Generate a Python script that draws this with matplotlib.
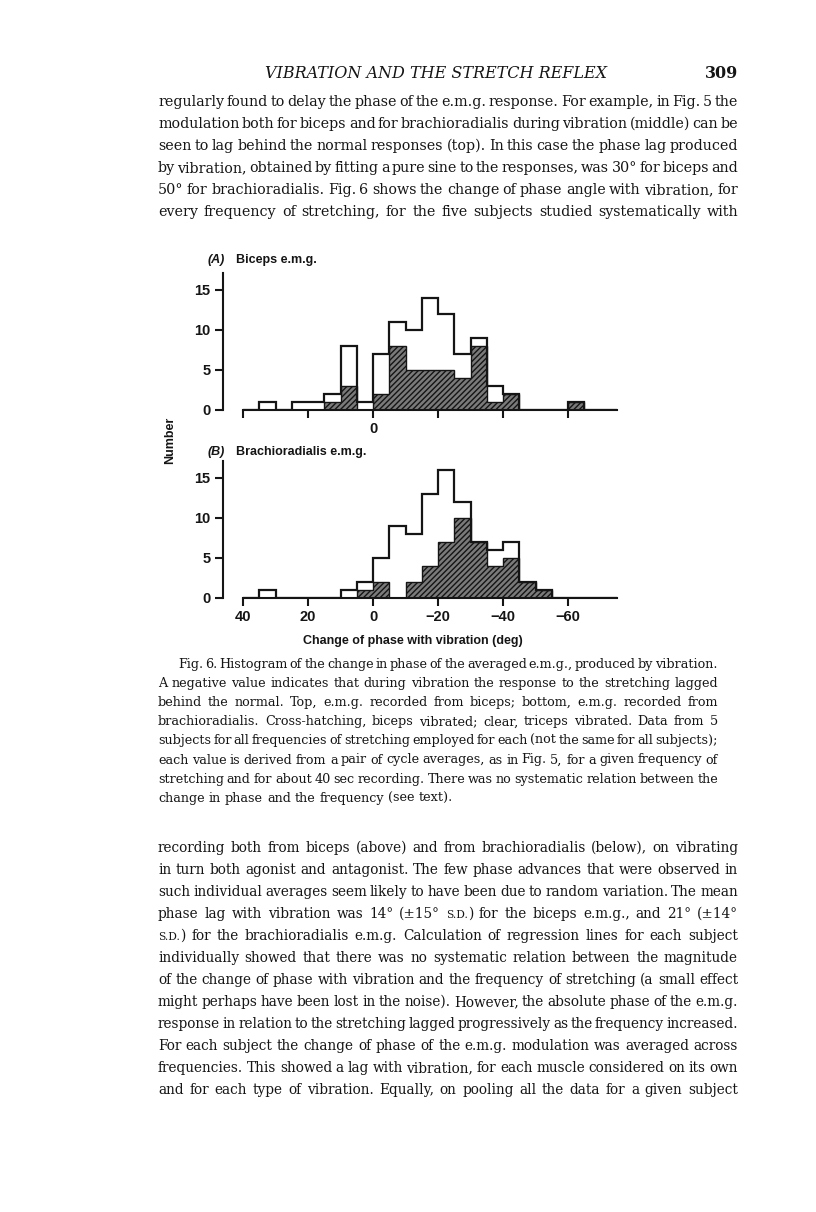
import matplotlib
matplotlib.use('Agg')
import matplotlib.pyplot as plt
import numpy as np

plt.rcParams['hatch.linewidth'] = 1.0

W, H = 816, 1212

# bins of 5 deg (left = +40 deg, right = -75 deg)
edges = np.arange(40, -80, -5)
# Biceps e.m.g.
biceps_total = [0, 1, 0, 1, 1, 2, 8, 1, 7, 11, 10, 14, 12, 7, 9, 3, 2, 0, 0, 0, 1, 0, 0]
biceps_hatched = [0, 0, 0, 0, 0, 1, 3, 0, 2, 8, 5, 5, 5, 4, 8, 1, 2, 0, 0, 0, 1, 0, 0]
# Brachioradialis e.m.g.
brachio_total = [0, 1, 0, 0, 0, 0, 1, 2, 5, 9, 8, 13, 16, 12, 7, 6, 7, 2, 1, 0, 0, 0, 0]
brachio_hatched = [0, 0, 0, 0, 0, 0, 0, 1, 2, 0, 2, 4, 7, 10, 7, 4, 5, 2, 1, 0, 0, 0, 0]

xticks = [40, 20, 0, -20, -40, -60]
xtick_labels = ['40', '20', '0', '\u221220', '\u221240', '\u221260']
yticks = [0, 5, 10, 15]

header = 'VIBRATION AND THE STRETCH REFLEX'
page_no = '309'

top_lines = [
    'regularly found to delay the phase of the e.m.g. response. For example, in Fig. 5 the',
    'modulation both for biceps and for brachioradialis during vibration (middle) can be',
    'seen to lag behind the normal responses (top). In this case the phase lag produced',
    'by vibration, obtained by fitting a pure sine to the responses, was 30\u00b0 for biceps and',
    '50\u00b0 for brachioradialis. Fig. 6 shows the change of phase angle with vibration, for',
    'every frequency of stretching, for the five subjects studied systematically with',
]

caption_lines = [
    'Fig. 6. Histogram of the change in phase of the averaged e.m.g., produced by vibration.',
    'A negative value indicates that during vibration the response to the stretching lagged',
    'behind the normal. Top, e.m.g. recorded from biceps; bottom, e.m.g. recorded from',
    'brachioradialis. Cross-hatching, biceps vibrated; clear, triceps vibrated. Data from 5',
    'subjects for all frequencies of stretching employed for each (not the same for all subjects);',
    'each value is derived from a pair of cycle averages, as in Fig. 5, for a given frequency of',
    'stretching and for about 40 sec recording. There was no systematic relation between the',
    'change in phase and the frequency (see text).',
]

bottom_lines = [
    'recording both from biceps (above) and from brachioradialis (below), on vibrating',
    'in turn both agonist and antagonist. The few phase advances that were observed in',
    'such individual averages seem likely to have been due to random variation. The mean',
    'phase lag with vibration was 14\u00b0 (\u00b115\u00b0 S.D.) for the biceps e.m.g., and 21\u00b0 (\u00b114\u00b0',
    'S.D.) for the brachioradialis e.m.g. Calculation of regression lines for each subject',
    'individually showed that there was no systematic relation between the magnitude',
    'of the change of phase with vibration and the frequency of stretching (a small effect',
    'might perhaps have been lost in the noise). However, the absolute phase of the e.m.g.',
    'response in relation to the stretching lagged progressively as the frequency increased.',
    'For each subject the change of phase of the e.m.g. modulation was averaged across',
    'frequencies. This showed a lag with vibration, for each muscle considered on its own',
    'and for each type of vibration. Equally, on pooling all the data for a given subject',
]

fig = plt.figure(figsize=(W / 100, H / 100), dpi=100)
renderer = fig.canvas.get_renderer()
SERIF = 'DejaVu Serif'
SANS = 'Liberation Sans'
INK = '#151515'


def pieces(word):
    # small caps for S.D.
    if 'S.D.' in word:
        a, b = word.split('S.D.', 1)
        out = []
        if a:
            out.append((a, 1.0))
        out.append(('S.D.', 0.78))
        if b:
            out.append((b, 1.0))
        return out
    return [(word, 1.0)]


def measure(s, size, **kw):
    t = fig.text(0, 0, s, fontsize=size, family=SERIF, **kw)
    w = t.get_window_extent(renderer).width
    t.remove()
    return w


def fit_size(lines, width, size, first_indent=0, last_left=False, min_gap=0.55):
    space = measure('a a', size) - measure('aa', size)
    n = len(lines) - 1 if last_left else len(lines)
    ratios = []
    for i in range(n):
        k = lines[i].count(' ')
        words_w = measure(lines[i], size) - k * space
        ratios.append((width - (first_indent if i == 0 else 0)) / (words_w + min_gap * k * space))
    return size * min(min(ratios), 1.0)


def text_block(lines, x0, x1, y0, dy, size, first_indent=0, last_left=False):
    size = fit_size(lines, x1 - x0, size, first_indent, last_left)
    space = measure('a a', size) - measure('aa', size)
    for i, line in enumerate(lines):
        y = 1 - (y0 + i * dy) / H
        words = line.split(' ')
        groups = []
        for w in words:
            grp = []
            for txt, sc in pieces(w):
                t = fig.text(0, y, txt, fontsize=size * sc, family=SERIF,
                             va='baseline', ha='left', color=INK)
                grp.append((t, t.get_window_extent(renderer).width))
            groups.append(grp)
        widths = [sum(wd for _, wd in g) for g in groups]
        left = x0 + (first_indent if i == 0 else 0)
        if last_left and i == len(lines) - 1:
            gap = space
        else:
            gap = (x1 - left - sum(widths)) / max(len(words) - 1, 1)
        x = left
        for g in groups:
            for t, wd in g:
                t.set_x(x / W)
                x += wd
            x += gap


# header
fig.text(436 / W, 1 - 78 / H, header, fontsize=11.5, family=SERIF, style='italic',
         ha='center', va='baseline', color=INK)
fig.text(738 / W, 1 - 78 / H, page_no, fontsize=11.5, family=SERIF, weight='bold',
         ha='right', va='baseline', color=INK)

text_block(top_lines, 158, 738, 106, 22, 13)
text_block(caption_lines, 158, 718, 668, 19.1, 11, first_indent=20, last_left=True)
text_block(bottom_lines, 158, 738, 852, 22, 13)


def panel(y_zero, total, hatched, labels):
    ax = fig.add_axes([243 / W, 1 - y_zero / H, 374 / W, 137 / H])
    ax.patch.set_alpha(0)
    ax.stairs(hatched, edges, fill=True, facecolor='#7a7a7a', edgecolor=INK,
              hatch='//////', linewidth=1.0, zorder=2)
    ax.stairs(total, edges, color=INK, linewidth=1.6, zorder=3)
    ax.set_xlim(40, -75)
    ax.set_ylim(0, 17.1)
    for s in ['top', 'right']:
        ax.spines[s].set_visible(False)
    ax.spines['left'].set_position(('outward', 14.4))
    ax.spines['left'].set_bounds(0, 17.1)
    for s in ['left', 'bottom']:
        ax.spines[s].set_linewidth(1.5)
        ax.spines[s].set_color(INK)
    ax.set_xticks(xticks)
    ax.set_xticklabels(labels)
    ax.set_yticks(yticks)
    ax.tick_params(axis='both', direction='out', length=6, width=1.5, color=INK,
                   labelsize=10.5, pad=3)
    for lab in ax.get_xticklabels() + ax.get_yticklabels():
        lab.set_family(SANS)
        lab.set_weight('bold')
        lab.set_color(INK)
    return ax


panel(410, biceps_total, biceps_hatched, ['', '', '0', '', '', ''])
panel(598, brachio_total, brachio_hatched, xtick_labels)

fig.text(208 / W, 1 - 260 / H, '(A)', fontsize=9, family=SANS, weight='bold', style='italic',
         va='center', ha='left', color=INK)
fig.text(236 / W, 1 - 260 / H, 'Biceps e.m.g.', fontsize=9, family=SANS, weight='bold',
         va='center', ha='left', color=INK)
fig.text(208 / W, 1 - 452 / H, '(B)', fontsize=9, family=SANS, weight='bold', style='italic',
         va='center', ha='left', color=INK)
fig.text(236 / W, 1 - 452 / H, 'Brachioradialis e.m.g.', fontsize=9, family=SANS, weight='bold',
         va='center', ha='left', color=INK)
fig.text(170 / W, 1 - 440 / H, 'Number', fontsize=9, family=SANS, weight='bold', rotation=90,
         va='center', ha='center', color=INK)
fig.text(413 / W, 1 - 641 / H, 'Change of phase with vibration (deg)', fontsize=9, family=SANS,
         weight='bold', va='center', ha='center', color=INK)

fig.savefig('out.png', dpi=100, facecolor='white')
